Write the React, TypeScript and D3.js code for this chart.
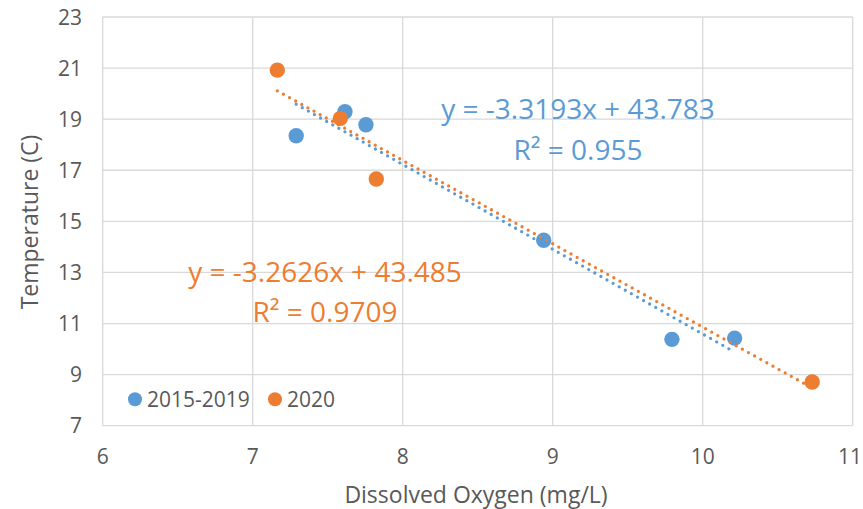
import React, { useEffect, useRef } from 'react';
import * as d3 from 'd3';

// 2015-2019 series
const oxygen1519 = [7.29, 7.615, 7.755, 8.94, 9.795, 10.213];
const temp1519 = [18.35, 19.29, 18.78, 14.26, 10.38, 10.43];
// 2020 series
const oxygen2020 = [7.164, 7.584, 7.824, 10.73];
const temp2020 = [20.92, 19.03, 16.66, 8.71];

const seriesNames = ['2015-2019', '2020'];
const trendSlopes = [-3.3193, -3.2626];
const trendIntercepts = [43.783, 43.485];
const trendLabels = ['y = -3.3193x + 43.783', 'y = -3.2626x + 43.485'];
const r2Labels = ['R² = 0.955', 'R² = 0.9709'];

const xTicks = [6, 7, 8, 9, 10, 11];
const yTicks = [7, 9, 11, 13, 15, 17, 19, 21, 23];

const W = 863;
const H = 509;

export default function App() {
  const ref = useRef<SVGSVGElement>(null);

  useEffect(() => {
    const svg = d3.select(ref.current);
    svg.selectAll('*').remove();

    const font = '"Open Sans", sans-serif';
    const textColor = '#595959';
    const colors = ['#5B9BD5', '#ED7D31'];

    const x = d3.scaleLinear().domain([6, 11]).range([102.7, 852.7]);
    const y = d3.scaleLinear().domain([7, 23]).range([425.7, 17]);

    // gridlines
    const grid = svg.append('g').attr('stroke', '#D9D9D9').attr('stroke-width', 1.3);
    grid
      .selectAll('line.v')
      .data(xTicks)
      .enter()
      .append('line')
      .attr('x1', d => x(d))
      .attr('x2', d => x(d))
      .attr('y1', y(23))
      .attr('y2', y(7));
    grid
      .selectAll('line.h')
      .data(yTicks)
      .enter()
      .append('line')
      .attr('x1', x(6))
      .attr('x2', x(11))
      .attr('y1', d => y(d))
      .attr('y2', d => y(d));

    // tick labels (last x label kept inside the frame)
    svg
      .append('g')
      .selectAll('text')
      .data(xTicks)
      .enter()
      .append('text')
      .attr('x', (d, i) => (i === xTicks.length - 1 ? W - 1 : x(d)))
      .attr('y', 464)
      .attr('text-anchor', (d, i) => (i === xTicks.length - 1 ? 'end' : 'middle'))
      .style('font-family', font)
      .style('font-size', '21px')
      .attr('fill', textColor)
      .text(d => d);
    svg
      .append('g')
      .selectAll('text')
      .data(yTicks)
      .enter()
      .append('text')
      .attr('x', 82)
      .attr('y', d => y(d) + 7.5)
      .attr('text-anchor', 'end')
      .style('font-family', font)
      .style('font-size', '21px')
      .attr('fill', textColor)
      .text(d => d);

    // axis titles
    svg
      .append('text')
      .attr('x', 476)
      .attr('y', 503)
      .attr('text-anchor', 'middle')
      .style('font-family', font)
      .style('font-size', '23px')
      .attr('fill', textColor)
      .text('Dissolved Oxygen (mg/L)');
    svg
      .append('text')
      .attr('transform', 'translate(38, 222) rotate(-90)')
      .attr('text-anchor', 'middle')
      .style('font-family', font)
      .style('font-size', '23px')
      .attr('fill', textColor)
      .text('Temperature (C)');

    const series = [
      { xs: oxygen1519, ys: temp1519 },
      { xs: oxygen2020, ys: temp2020 },
    ];

    // markers
    series.forEach((s, i) => {
      svg
        .append('g')
        .selectAll('circle')
        .data(s.xs.map((v, j) => [v, s.ys[j]]))
        .enter()
        .append('circle')
        .attr('cx', d => x(d[0]))
        .attr('cy', d => y(d[1]))
        .attr('r', 7.7)
        .attr('fill', colors[i]);
    });

    // dotted linear trendlines over data range
    series.forEach((s, i) => {
      const [lo, hi] = d3.extent(s.xs) as [number, number];
      const line = d3
        .line<number>()
        .x(d => x(d))
        .y(d => y(trendSlopes[i] * d + trendIntercepts[i]));
      svg
        .append('path')
        .attr('d', line([lo, hi]))
        .attr('fill', 'none')
        .attr('stroke', colors[i])
        .attr('stroke-width', 3.3)
        .attr('stroke-linecap', 'round')
        .attr('stroke-dasharray', '0 7');
    });

    // equation labels
    const eqPos = [
      { cx: 578, y1: 119, y2: 160 },
      { cx: 325, y1: 282, y2: 322 },
    ];
    eqPos.forEach((p, i) => {
      [trendLabels[i], r2Labels[i]].forEach((t, k) => {
        svg
          .append('text')
          .attr('x', p.cx)
          .attr('y', k === 0 ? p.y1 : p.y2)
          .attr('text-anchor', 'middle')
          .style('font-family', font)
          .style('font-size', '28px')
          .attr('fill', colors[i])
          .text(t);
      });
    });

    // legend
    const legendX = [135, 275];
    seriesNames.forEach((name, i) => {
      svg
        .append('circle')
        .attr('cx', legendX[i])
        .attr('cy', 399.3)
        .attr('r', 7)
        .attr('fill', colors[i]);
      svg
        .append('text')
        .attr('x', legendX[i] + 12)
        .attr('y', 407)
        .style('font-family', font)
        .style('font-size', '21px')
        .attr('fill', textColor)
        .text(name);
    });
  }, []);

  return (
    <svg
      ref={ref}
      width={W}
      height={H}
      style={{ position: 'absolute', left: 0, top: 0, background: '#fff' }}
    />
  );
}
